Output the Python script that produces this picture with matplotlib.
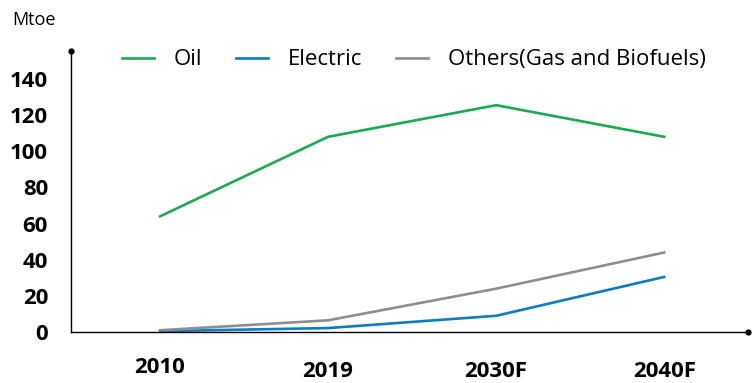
import matplotlib
matplotlib.use('Agg')
import matplotlib.pyplot as plt
import matplotlib.transforms as mtransforms

plt.rcParams['font.family'] = ['Open Sans', 'DejaVu Sans']

years = ['2010', '2019', '2030F', '2040F']
oil = [64, 108, 125.5, 108]
electric = [0.5, 2.2, 9, 30.5]
others = [1, 6.5, 24, 44]

fig = plt.figure(figsize=(7.55, 3.83), dpi=100)
ax = fig.add_axes([0.094, 0.133, 0.897, 0.734])

x = range(len(years))
ax.plot(x, oil, color='#1aab4f', lw=1.9, label='Oil')
ax.plot(x, electric, color='#0b7dc0', lw=1.9, label='Electric')
ax.plot(x, others, color='#8e8e8e', lw=1.9, label='Others(Gas and Biofuels)')

ax.set_xlim(-0.53, 3.5)
ax.set_ylim(0, 155.5)
ax.set_yticks(range(0, 141, 20))
ax.set_xticks(list(x))
ax.set_xticklabels(years)

for s in ['top', 'right']:
    ax.spines[s].set_visible(False)
for s in ['left', 'bottom']:
    ax.spines[s].set_linewidth(1.0)
    ax.spines[s].set_color('black')

# end dots on the axis lines
ax.plot([0], [1], 'o', color='black', ms=3.5, transform=ax.transAxes, clip_on=False)
ax.plot([1], [0], 'o', color='black', ms=3.5, transform=ax.transAxes, clip_on=False)

ax.tick_params(axis='both', length=0, labelsize=16)
ax.tick_params(axis='y', pad=16.5)
ax.tick_params(axis='x', pad=20.5)
for lab in ax.get_xticklabels() + ax.get_yticklabels():
    lab.set_fontweight('bold')
# first year label sits a little higher
first = ax.get_xticklabels()[0]
first.set_transform(first.get_transform() + mtransforms.ScaledTranslation(0, 2.6 / 72, fig.dpi_scale_trans))

fig.text(12 / 755, 1 - 20 / 383, 'Mtoe', fontsize=13, va='center', ha='left')

ax.legend(loc='center', bbox_to_anchor=(0.506, 0.968), ncol=3, frameon=False,
          fontsize=16, handlelength=1.45, handletextpad=0.9, columnspacing=1.5)

fig.savefig('out.png', dpi=100, facecolor='white')
